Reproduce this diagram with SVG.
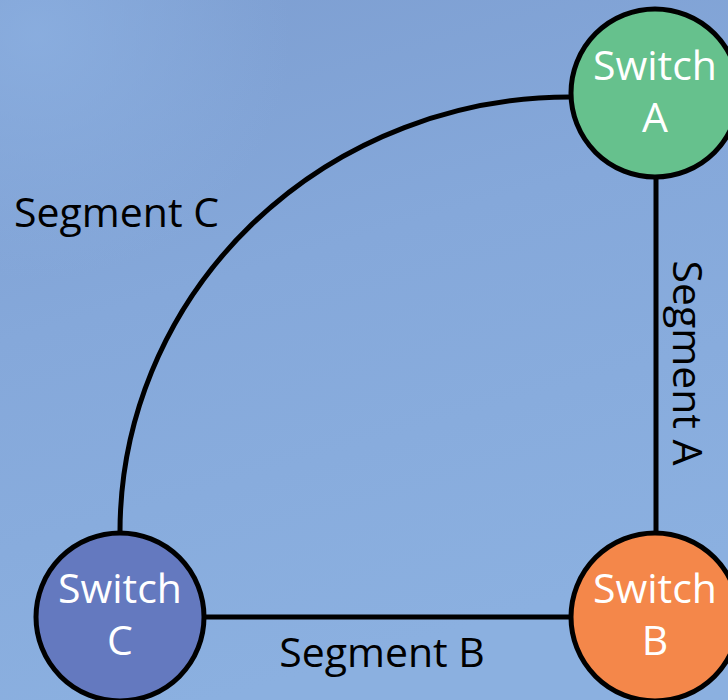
<svg xmlns="http://www.w3.org/2000/svg" width="728" height="700" viewBox="0 0 728 700">
  <defs>
    <linearGradient id="bg" x1="0" y1="0" x2="0.3" y2="1">
      <stop offset="0" stop-color="#7d9ed1"/>
      <stop offset="0.45" stop-color="#85a8da"/>
      <stop offset="1" stop-color="#8bb0e0"/>
    </linearGradient>
    <radialGradient id="glow" cx="0.05" cy="0.05" r="0.35">
      <stop offset="0" stop-color="#8cb0e1" stop-opacity="0.8"/>
      <stop offset="1" stop-color="#8cb0e1" stop-opacity="0"/>
    </radialGradient>
    <style>
      .link { fill: none; stroke: #000; stroke-width: 5; }
      .node { stroke: #000; stroke-width: 5; }
      .name { font-family: "Open Sans", "Noto Sans", sans-serif; font-size: 41px; fill: #fff; text-anchor: middle; }
      .label { font-family: "Open Sans", "Noto Sans", sans-serif; font-size: 41px; fill: #000; }
    </style>
  </defs>

  <rect width="728" height="700" fill="url(#bg)"/>
  <rect width="728" height="700" fill="url(#glow)"/>

  <g id="connectors">
    <path id="segment-a" class="link" d="M656 178 V532"/>
    <path id="segment-b" class="link" d="M205 617 H570"/>
    <path id="segment-c" class="link" d="M120 532 A450 435 0 0 1 570 97"/>
  </g>

  <g id="labels">
    <text class="label" x="14" y="227">Segment C</text>
    <text class="label" x="382" y="667" text-anchor="middle">Segment B</text>
    <text class="label" transform="translate(673 363) rotate(90)" text-anchor="middle">Segment A</text>
  </g>

  <g id="switch-a">
    <circle class="node" cx="655" cy="93" r="84" fill="#66c18d"/>
    <text class="name" x="655" y="80">Switch</text>
    <text class="name" x="655" y="132">A</text>
  </g>

  <g id="switch-b">
    <circle class="node" cx="655" cy="617" r="84" fill="#f4874a"/>
    <text class="name" x="655" y="603">Switch</text>
    <text class="name" x="655" y="655">B</text>
  </g>

  <g id="switch-c">
    <circle class="node" cx="120" cy="617" r="84" fill="#6479bf"/>
    <text class="name" x="120" y="603">Switch</text>
    <text class="name" x="120" y="655">C</text>
  </g>
</svg>
